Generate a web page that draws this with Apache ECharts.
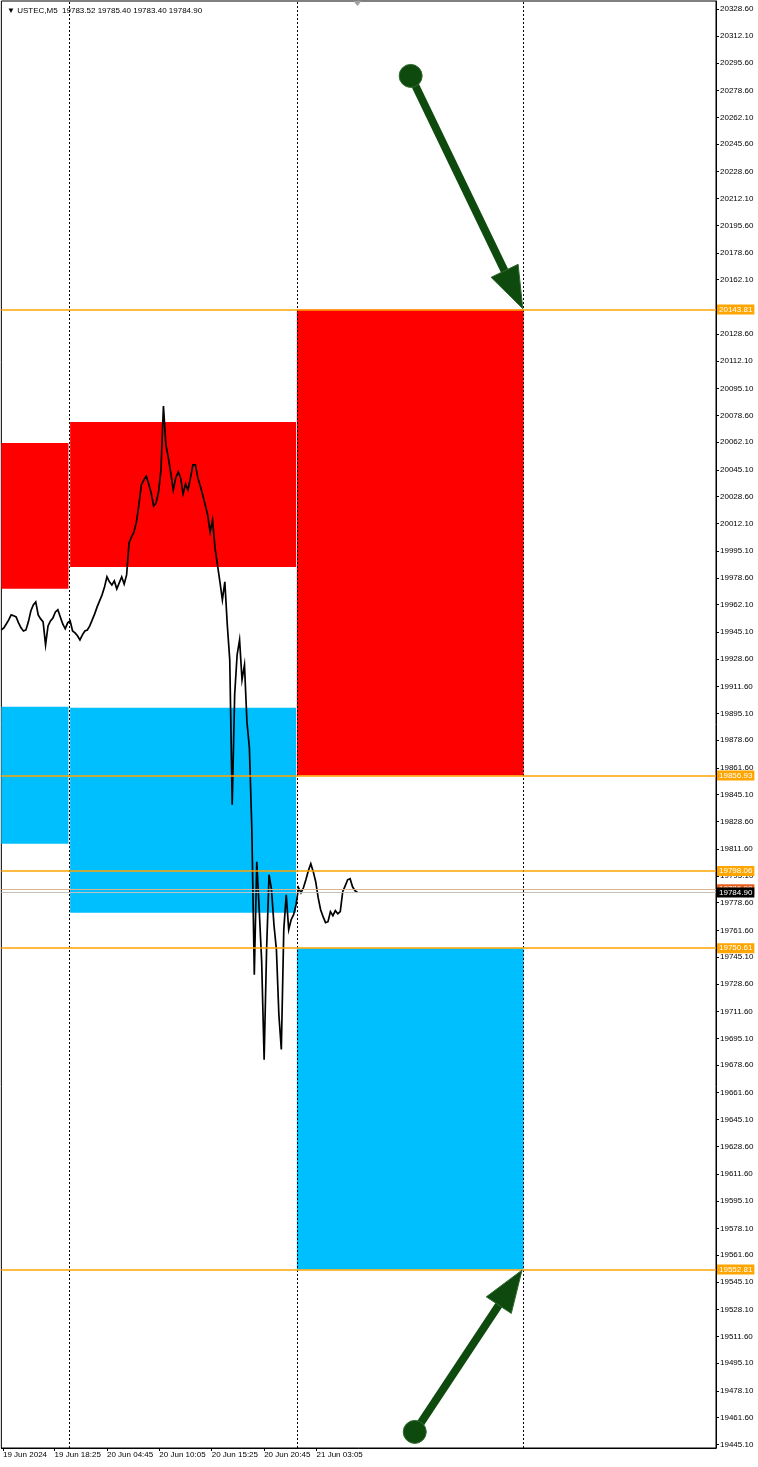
<!DOCTYPE html>
<html>
<head>
<meta charset="utf-8">
<script src="https://cdn.jsdelivr.net/npm/echarts@6/dist/echarts.min.js"></script>
<style>
html,body{margin:0;padding:0;background:#fff;}
#c{width:758px;height:1467px;}
</style>
</head>
<body>
<div id="c"></div>
<script>
// ---------------- DATA ----------------
const titleText = '\u25BC USTEC,M5  19783.52 19785.40 19783.40 19784.90';

// M5 close prices, one value every 3 bars, starting at bar 0
const BAR_STEP = 3;
const priceClose = [
  19946.5, 19947.8, 19950.2, 19952.7, 19955.8, 19955.2, 19954.5, 19950.9, 19947.8, 19945.9,
  19946.5, 19951.5, 19958.2, 19961.9, 19963.8, 19955.8, 19953.3, 19951.5, 19937.3, 19949.0,
  19952.1, 19953.9, 19957.6, 19958.9, 19954.5, 19950.2, 19947.2, 19950.9, 19952.1, 19945.9,
  19944.7, 19942.9, 19940.4, 19943.5, 19945.9, 19946.5, 19949.0, 19952.7, 19956.4, 19960.7,
  19964.4, 19968.1, 19973.0, 19979.2, 19976.1, 19974.2, 19976.7, 19971.8, 19975.5, 19979.2,
  19974.8, 19980.4, 20000.1, 20003.8, 20006.8, 20013.0, 20023.5, 20035.8, 20038.8, 20041.3,
  20036.4, 20030.8, 20022.8, 20024.7, 20031.4, 20045.0, 20084.4, 20060.4, 20052.4, 20043.1,
  20032.7, 20040.1, 20043.8, 20040.1, 20030.2, 20036.4, 20032.7, 20040.1, 20048.1, 20048.1,
  20040.1, 20035.1, 20029.6, 20023.5, 20017.3, 20006.8, 20014.2, 19997.0, 19986.5, 19976.1,
  19965.0, 19976.1, 19949.6, 19928.1, 19838.9, 19906.6, 19931.2, 19940.4, 19915.8, 19925.0,
  19889.9, 19873.9, 19823.5, 19734.3, 19803.8, 19774.3, 19742.3, 19682.0, 19749.7, 19795.8,
  19786.6, 19765.0, 19749.7, 19709.7, 19688.2, 19762.0, 19783.5, 19762.0, 19768.1, 19771.2,
  19777.4, 19787.8, 19784.7, 19787.8, 19792.7, 19798.3, 19802.6, 19797.7, 19791.5, 19781.7,
  19774.3, 19770.0, 19766.3, 19766.9, 19773.1, 19770.6, 19773.7, 19771.8, 19773.1, 19785.4,
  19789.0, 19792.7, 19793.4, 19788.4, 19786.0, 19784.9
];

const X_MAX_BAR = 873;
const Y_MIN = 19442.9;
const Y_MAX = 20333.7;

const xTickBars = [2, 65, 129, 193, 257, 321, 385];
const xTickLabels = ['19 Jun 2024', '19 Jun 18:25', '20 Jun 04:45', '20 Jun 10:05', '20 Jun 15:25', '20 Jun 20:45', '21 Jun 03:05'];

const yTickValues = [
  20328.60, 20312.10, 20295.60, 20278.60, 20262.10, 20245.60, 20228.60, 20212.10, 20195.60, 20178.60,
  20162.10, 20128.60, 20112.10, 20095.10, 20078.60, 20062.10, 20045.10, 20028.60, 20012.10, 19995.10,
  19978.60, 19962.10, 19945.10, 19928.60, 19911.60, 19895.10, 19878.60, 19861.60, 19845.10, 19828.60,
  19811.60, 19795.10, 19778.60, 19761.60, 19745.10, 19728.60, 19711.60, 19695.10, 19678.60, 19661.60,
  19645.10, 19628.60, 19611.60, 19595.10, 19578.10, 19561.60, 19545.10, 19528.10, 19511.60, 19495.10,
  19478.10, 19461.60, 19445.10
];

// day separators (bar index)
const daySeparatorBars = [83, 361, 638];

// zones: [barFrom, barTo, priceLow, priceHigh]
const supplyZones = [
  [0, 82, 19971.8, 20061.6],
  [84, 360, 19985.3, 20074.5],
  [361, 638, 19856.93, 20143.81]
];
const demandZones = [
  [0, 82, 19814.9, 19899.2],
  [84, 360, 19772.4, 19898.6],
  [361, 638, 19552.81, 19750.61]
];

const levelLines = [20143.81, 19856.93, 19798.06, 19750.61, 19552.81];
const bidPrice = 19784.90;
const askPrice = 19786.9;

// arrows: [start(bar, price), end(bar, price)]
const arrowDown = [[500, 20287.6], [637, 20144.3]];
const arrowUp = [[505, 19452.8], [636, 19552.4]];

// ---------------- CHART ----------------
const FONT = "'Liberation Sans', Arial, sans-serif";
const ORANGE = '#FFA500';
const GREEN = '#0E4A0E';
const GREEN_EDGE = '#2F6A2F';

const chart = echarts.init(document.getElementById('c'), null, {renderer: 'canvas'});

const priceData = priceClose.map((v, i) => [i * BAR_STEP, v]);

function zoneItems(zones, color) {
  return zones.map(z => [
    {xAxis: z[0], yAxis: z[2], itemStyle: {color: color, opacity: 1}},
    {xAxis: z[1], yAxis: z[3]}
  ]);
}

const priceLabel = (bg, fg) => ({
  show: true, position: 'end', distance: 1,
  color: fg, backgroundColor: bg, padding: [1, 2, 0, 2],
  fontSize: 8, fontFamily: FONT, lineHeight: 9
});

const option = {
  animation: false,
  backgroundColor: '#ffffff',
  title: {
    text: titleText, left: 2, top: 2,
    textStyle: {fontSize: 8, fontWeight: 'normal', color: '#000', fontFamily: FONT}
  },
  grid: {left: 0, right: 42, top: 1, bottom: 19, show: true, borderColor: '#000', borderWidth: 1, backgroundColor: 'transparent'},
  xAxis: {
    type: 'value', min: 0, max: X_MAX_BAR,
    axisLine: {show: true, onZero: false, lineStyle: {color: '#000', width: 1}},
    axisTick: {show: true, customValues: xTickBars, length: 3, lineStyle: {color: '#000'}},
    axisLabel: {
      customValues: xTickBars,
      formatter: v => { const i = xTickBars.indexOf(Math.round(v)); return i >= 0 ? xTickLabels[i] : ''; },
      align: 'left', fontSize: 8, color: '#000', margin: 3, fontFamily: FONT
    },
    splitLine: {show: false}
  },
  yAxis: {
    type: 'value', position: 'right', min: Y_MIN, max: Y_MAX,
    axisLine: {show: true, onZero: false, lineStyle: {color: '#000', width: 1}},
    axisTick: {show: true, customValues: yTickValues, length: 3, lineStyle: {color: '#000'}},
    axisLabel: {
      customValues: yTickValues,
      formatter: v => v.toFixed(2),
      fontSize: 8, color: '#000', margin: 4, fontFamily: FONT
    },
    splitLine: {show: false}
  },
  series: [
    {
      name: 'separators', type: 'line', data: [], z: 1, silent: true,
      markLine: {
        silent: true, symbol: ['none', 'none'], label: {show: false},
        lineStyle: {color: '#000', type: [2, 2], width: 1},
        data: daySeparatorBars.map(b => ({xAxis: b}))
      }
    },
    {
      name: 'zones', type: 'line', data: [], z: 2, silent: true,
      markArea: {
        silent: true,
        data: zoneItems(supplyZones, '#FF0000').concat(zoneItems(demandZones, '#00BFFF'))
      }
    },
    {
      name: 'levels', type: 'line', data: [], z: 3, silent: true,
      markLine: {
        silent: true, symbol: ['none', 'none'],
        lineStyle: {color: ORANGE, width: 1.5, type: 'solid'},
        label: priceLabel(ORANGE, '#fff'),
        data: levelLines.map(v => ({yAxis: v, label: {formatter: v.toFixed(2)}}))
      }
    },
    {
      name: 'price', type: 'line', data: priceData, z: 4,
      showSymbol: false, symbol: 'none', silent: true, smooth: false,
      lineStyle: {color: '#000', width: 1.7, join: 'miter'}
    },
    {
      name: 'ask', type: 'line', data: [], z: 5, silent: true,
      markLine: {
        silent: true, symbol: ['none', 'none'],
        lineStyle: {color: '#D9B48F', width: 1, type: 'solid'},
        label: priceLabel('#E8601C', '#fff'),
        data: [{yAxis: askPrice, label: {formatter: askPrice.toFixed(2)}}]
      }
    },
    {
      name: 'bid', type: 'line', data: [], z: 6, silent: true,
      markLine: {
        silent: true, symbol: ['none', 'none'],
        lineStyle: {color: '#C0C0C0', width: 1, type: 'solid'},
        label: priceLabel('#000', '#fff'),
        data: [{yAxis: bidPrice, label: {formatter: bidPrice.toFixed(2)}}]
      }
    }
  ]
};

chart.setOption(option);

function arrowGraphic(start, end) {
  const a = chart.convertToPixel({xAxisIndex: 0, yAxisIndex: 0}, start);
  const b = chart.convertToPixel({xAxisIndex: 0, yAxisIndex: 0}, end);
  const dx = b[0] - a[0], dy = b[1] - a[1];
  const len = Math.hypot(dx, dy);
  const ux = dx / len, uy = dy / len;
  const px = -uy, py = ux;
  const L = 42, W = 15;
  const base = [b[0] - ux * L, b[1] - uy * L];
  return [
    {type: 'line', z: 100, silent: true,
      shape: {x1: a[0], y1: a[1], x2: base[0] + ux * 6, y2: base[1] + uy * 6},
      style: {stroke: GREEN, lineWidth: 8}},
    {type: 'polygon', z: 101, silent: true,
      shape: {points: [[b[0], b[1]], [base[0] + px * W, base[1] + py * W], [base[0] - px * W, base[1] - py * W]]},
      style: {fill: GREEN, stroke: GREEN_EDGE, lineWidth: 1}},
    {type: 'circle', z: 101, silent: true,
      shape: {cx: a[0], cy: a[1], r: 11.5},
      style: {fill: GREEN, stroke: GREEN_EDGE, lineWidth: 1}}
  ];
}

const lastBar = (priceClose.length - 1) * BAR_STEP;
const shiftPt = chart.convertToPixel({xAxisIndex: 0, yAxisIndex: 0}, [lastBar, Y_MAX]);

chart.setOption({
  graphic: arrowGraphic(arrowDown[0], arrowDown[1])
    .concat(arrowGraphic(arrowUp[0], arrowUp[1]))
    .concat([{
      type: 'polygon', z: 50, silent: true,
      shape: {points: [[shiftPt[0] - 4, shiftPt[1]], [shiftPt[0] + 4, shiftPt[1]], [shiftPt[0], shiftPt[1] + 5]]},
      style: {fill: '#A0A0A0'}
    }])
});
</script>
</body>
</html>
